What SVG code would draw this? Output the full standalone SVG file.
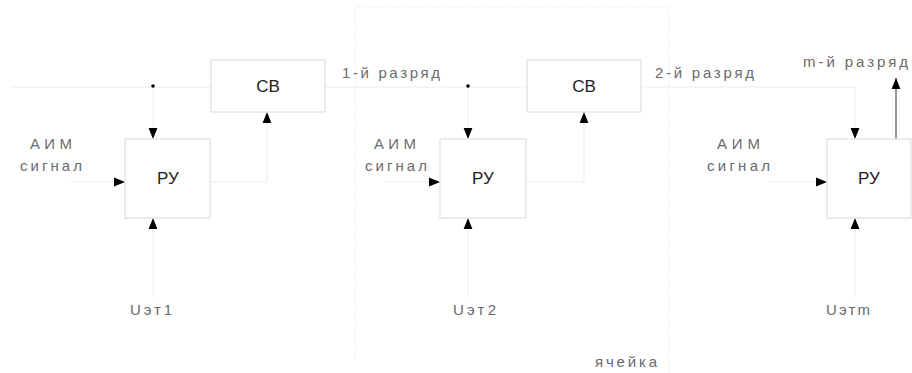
<svg xmlns="http://www.w3.org/2000/svg" width="912" height="373" viewBox="0 0 912 373">
<style>
.box{fill:#fff;stroke:#d8d8d8;stroke-width:1}
.ln{fill:none;stroke:#ececec;stroke-width:1}
.cell{fill:none;stroke:#efefef;stroke-width:1;stroke-dasharray:3 2}
.out{fill:none;stroke:#777;stroke-width:1.5}
.lbl{font-family:"Liberation Sans",Arial,sans-serif;font-size:15px;fill:#6a6a6a}
.blk{font-family:"Liberation Sans",Arial,sans-serif;font-size:17px;fill:#222;text-anchor:middle}
</style>
<defs>
<marker id="ah" viewBox="0 0 10 10" refX="10" refY="5" markerWidth="11" markerHeight="11" markerUnits="userSpaceOnUse" orient="auto">
<path d="M0,1 L10,5 L0,9 Z" fill="#000"/>
</marker>
</defs>
<g id="cell-frame">
<path class="cell" d="M355,360 V7 H669 V373"/>
<text class="lbl" x="595" y="367" textLength="62" lengthAdjust="spacing">ячейка</text>
</g>
<g id="connectors">
<path class="ln" d="M10,87 H211"/>
<path class="ln" d="M325,87 H527"/>
<path class="ln" d="M641,87 H855 V139" marker-end="url(#ah)"/>
<path class="ln" d="M153,86 V139" marker-end="url(#ah)"/>
<path class="ln" d="M468,86 V139" marker-end="url(#ah)"/>
<path class="ln" d="M210,182 H267 V112" marker-end="url(#ah)"/>
<path class="ln" d="M526,182 H584 V112" marker-end="url(#ah)"/>
<path class="ln" d="M70,182 H125" marker-end="url(#ah)"/>
<path class="ln" d="M384,182 H440" marker-end="url(#ah)"/>
<path class="ln" d="M770,182 H827" marker-end="url(#ah)"/>
<path class="ln" d="M153,297 V218" marker-end="url(#ah)"/>
<path class="ln" d="M468,297 V218" marker-end="url(#ah)"/>
<path class="ln" d="M855,297 V218" marker-end="url(#ah)"/>
<path class="out" d="M896,139 V78" marker-end="url(#ah)"/>
<circle cx="153" cy="86" r="1.8" fill="#000"/>
<circle cx="468" cy="86" r="1.8" fill="#000"/>
</g>
<g id="cb1">
<rect class="box" x="211" y="60" width="114" height="52"/>
<text class="blk" x="268" y="92">СВ</text>
</g>
<g id="cb2">
<rect class="box" x="527" y="60" width="114" height="52"/>
<text class="blk" x="584" y="92">СВ</text>
</g>
<g id="ru1">
<rect class="box" x="125" y="139" width="85" height="79"/>
<text class="blk" x="168" y="184">РУ</text>
</g>
<g id="ru2">
<rect class="box" x="440" y="139" width="86" height="79"/>
<text class="blk" x="483" y="184">РУ</text>
</g>
<g id="ru3">
<rect class="box" x="827" y="139" width="84" height="79"/>
<text class="blk" x="869" y="184">РУ</text>
</g>
<g id="labels">
<text class="lbl" x="342" y="78" textLength="98" lengthAdjust="spacing">1-й разряд</text>
<text class="lbl" x="655" y="78" textLength="99" lengthAdjust="spacing">2-й разряд</text>
<text class="lbl" x="803" y="67" textLength="105" lengthAdjust="spacing">m-й разряд</text>
<text class="lbl" x="30" y="149" textLength="42" lengthAdjust="spacing">АИМ</text>
<text class="lbl" x="20" y="171" textLength="62" lengthAdjust="spacing">сигнал</text>
<text class="lbl" x="374" y="149" textLength="42" lengthAdjust="spacing">АИМ</text>
<text class="lbl" x="365" y="171" textLength="62" lengthAdjust="spacing">сигнал</text>
<text class="lbl" x="717" y="149" textLength="43" lengthAdjust="spacing">АИМ</text>
<text class="lbl" x="707" y="171" textLength="63" lengthAdjust="spacing">сигнал</text>
<text class="lbl" x="130" y="315" textLength="42" lengthAdjust="spacing">Uэт1</text>
<text class="lbl" x="453" y="315" textLength="43" lengthAdjust="spacing">Uэт2</text>
<text class="lbl" x="826" y="315" textLength="44" lengthAdjust="spacing">Uэтm</text>
</g>
</svg>
